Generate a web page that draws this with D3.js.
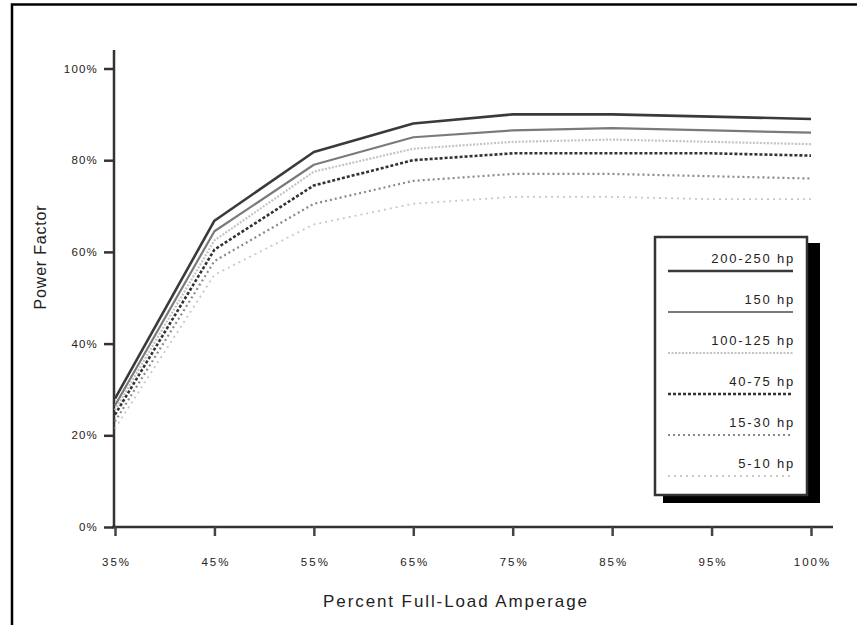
<!DOCTYPE html>
<html>
<head>
<meta charset="utf-8">
<script src="https://cdn.jsdelivr.net/npm/d3@7"></script>
<style>
  html, body { margin: 0; padding: 0; background: #fff; }
  svg { display: block; font-family: "Liberation Sans", Arial, sans-serif; }
</style>
</head>
<body>
<svg id="chart" width="857" height="625"></svg>
<script>
// ---- data ----
const categories = ["35%", "45%", "55%", "65%", "75%", "85%", "95%", "100%"];
const seriesNames = ["200-250 hp", "150 hp", "100-125 hp", "40-75 hp", "15-30 hp", "5-10 hp"];
const hp200_250 = [28, 66.8, 81.8, 88, 90, 90, 89.5, 89];
const hp150     = [26.5, 64.5, 79, 85, 86.5, 87, 86.5, 86];
const hp100_125 = [25.5, 62.5, 77.5, 82.5, 84, 84.5, 84, 83.5];
const hp40_75   = [24.5, 60.5, 74.5, 80, 81.5, 81.5, 81.5, 81];
const hp15_30   = [23, 58, 70.5, 75.5, 77, 77, 76.5, 76];
const hp5_10    = [21.5, 55, 66, 70.5, 72, 72, 71.5, 71.5];
const yTicks = [0, 20, 40, 60, 80, 100];
const yTickLabels = ["0%", "20%", "40%", "60%", "80%", "100%"];

const seriesValues = [hp200_250, hp150, hp100_125, hp40_75, hp15_30, hp5_10];
const styles = [
  { color: "#3a3a3a", width: 2.6, dash: null },
  { color: "#7a7a7a", width: 2.2, dash: null },
  { color: "#c4c4c4", width: 2.2, dash: "2,1.5" },
  { color: "#333333", width: 2.6, dash: "3,2" },
  { color: "#8a8a8a", width: 2.2, dash: "2,3" },
  { color: "#c8c8c8", width: 1.8, dash: "2,4" }
];

const svg = d3.select("#chart");

// frame (left + top)
svg.append("path").attr("d", "M12,625 L12,4.5 L857,4.5")
  .attr("fill", "none").attr("stroke", "#000").attr("stroke-width", 2.5);

const x = d3.scalePoint().domain(categories).range([115, 811]);
const y = d3.scaleLinear().domain([0, 100]).range([527, 68.5]);

// axes lines
const g = svg.append("g");
g.append("line").attr("x1", 114).attr("x2", 114).attr("y1", 50).attr("y2", y(0))
  .attr("stroke", "#333").attr("stroke-width", 2.5);
g.append("line").attr("x1", 112).attr("x2", 833).attr("y1", y(0)).attr("y2", y(0))
  .attr("stroke", "#333").attr("stroke-width", 2.5);

// y ticks
const yAxis = d3.axisLeft(y).tickValues(yTicks)
  .tickFormat((d, i) => yTickLabels[i]).tickSize(10).tickPadding(6);
const ya = svg.append("g").attr("transform", "translate(114,0)").call(yAxis);
ya.select(".domain").remove();
ya.selectAll(".tick line").attr("stroke", "#333").attr("stroke-width", 2.5);
ya.selectAll(".tick text").attr("font-size", 11.5).attr("fill", "#222")
  .attr("letter-spacing", "1.2px").attr("font-family", "Liberation Sans, Arial, sans-serif");

// x ticks
const xAxis = d3.axisBottom(x).tickSize(9).tickPadding(22);
const xa = svg.append("g").attr("transform", `translate(0,${y(0)})`).call(xAxis);
xa.select(".domain").remove();
xa.selectAll(".tick line").attr("stroke", "#444").attr("stroke-width", 2.5);
xa.selectAll(".tick text").attr("font-size", 11.5).attr("fill", "#222")
  .attr("letter-spacing", "2px").attr("dx", "1px").attr("font-family", "Liberation Sans, Arial, sans-serif");

// axis titles
svg.append("text").attr("x", 456).attr("y", 607).attr("text-anchor", "middle")
  .attr("font-size", 17).attr("letter-spacing", "1.9px").attr("fill", "#222")
  .text("Percent Full-Load Amperage");
svg.append("text").attr("transform", "translate(46,257) rotate(-90)")
  .attr("text-anchor", "middle").attr("font-size", 16).attr("letter-spacing", "0.8px").attr("fill", "#222")
  .text("Power Factor");

// lines (draw lightest first)
const line = d3.line().x((d, i) => x(categories[i])).y(d => y(d));
for (let k = seriesValues.length - 1; k >= 0; k--) {
  const s = styles[k];
  svg.append("path").datum(seriesValues[k])
    .attr("d", line).attr("fill", "none")
    .attr("stroke", s.color).attr("stroke-width", s.width)
    .attr("stroke-dasharray", s.dash)
    .attr("stroke-linejoin", "round");
}

// legend
const lg = svg.append("g");
lg.append("rect").attr("x", 663).attr("y", 243).attr("width", 157).attr("height", 260).attr("fill", "#000");
lg.append("rect").attr("x", 655).attr("y", 237).attr("width", 152).attr("height", 258)
  .attr("fill", "#fff").attr("stroke", "#333").attr("stroke-width", 2.5);
seriesNames.forEach((name, i) => {
  const s = styles[i];
  const ty = 263 + i * 41;
  lg.append("text").attr("x", 795).attr("y", ty).attr("text-anchor", "end")
    .attr("font-size", 13).attr("letter-spacing", "1.8px").attr("fill", "#222").text(name);
  lg.append("line").attr("x1", 668).attr("x2", 793).attr("y1", ty + 8).attr("y2", ty + 8)
    .attr("stroke", s.color).attr("stroke-width", s.width).attr("stroke-dasharray", s.dash);
});
</script>
</body>
</html>
